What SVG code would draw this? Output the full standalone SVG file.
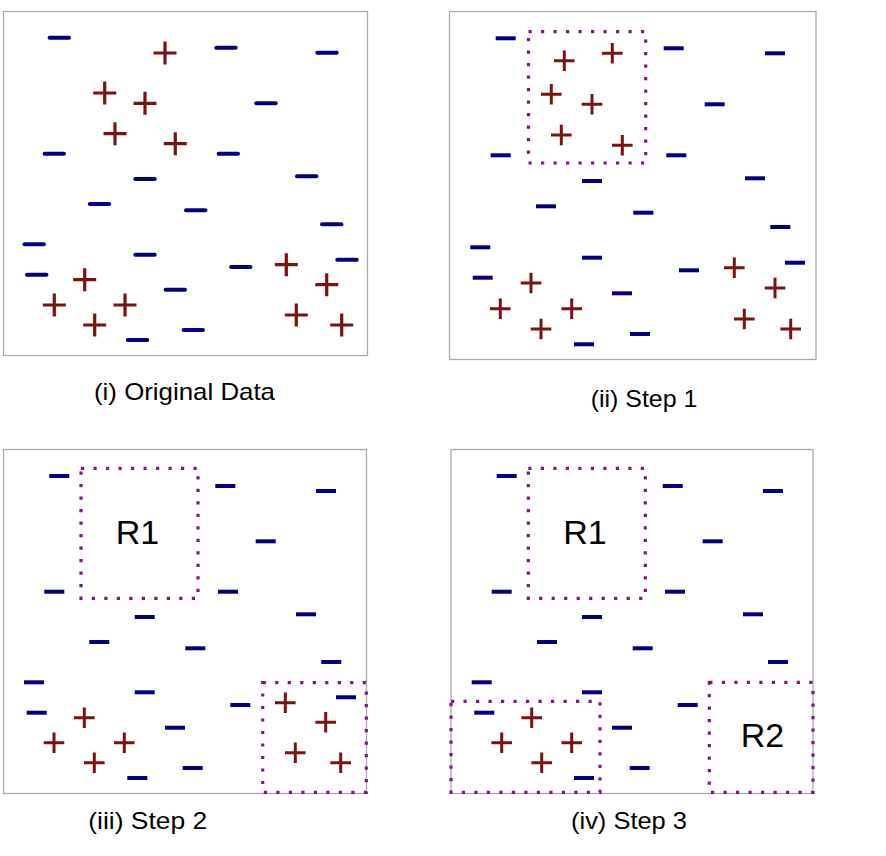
<svg xmlns="http://www.w3.org/2000/svg" xmlns:xlink="http://www.w3.org/1999/xlink" width="886" height="856" viewBox="0 0 886 856">
<style>
.frame{fill:none;stroke:#aaaaaa;stroke-width:1.3}
.box{fill:none;stroke:#7a1a7e;stroke-width:3.2;stroke-dasharray:3.2 9.3}
.cap{font-family:"Liberation Sans",Arial,sans-serif;font-size:24px;fill:#000}
.rl{font-family:"Liberation Sans",Arial,sans-serif;font-size:34px;fill:#000;text-anchor:middle}
</style>
<defs>
<line id="m1" x1="-9.7" y1="0" x2="9.7" y2="0" stroke="#000080" stroke-width="4" stroke-linecap="round"/>
<rect id="m" x="-10" y="-2" width="20" height="4" fill="#000080"/>
<path id="p1" d="M-11.5 0H11.5M0 -11.5V11.5" stroke="#7b1212" stroke-width="3.2" fill="none"/>
<path id="p" d="M-10.3 0H10.3M0 -10.3V10.3" stroke="#7b1212" stroke-width="3" fill="none"/>
</defs>
<rect width="886" height="856" fill="#fff"/>

<g id="panel1">
<rect class="frame" x="3.5" y="11.5" width="364" height="344"/>
<use xlink:href="#m1" x="59.3" y="37.7"/>
<use xlink:href="#m1" x="226" y="47.7"/>
<use xlink:href="#m1" x="327" y="52.7"/>
<use xlink:href="#m1" x="266" y="103.3"/>
<use xlink:href="#m1" x="54.3" y="153.7"/>
<use xlink:href="#m1" x="228.3" y="153.7"/>
<use xlink:href="#m1" x="306.7" y="176.3"/>
<use xlink:href="#m1" x="145" y="179"/>
<use xlink:href="#m1" x="99.5" y="204"/>
<use xlink:href="#m1" x="195.7" y="210.3"/>
<use xlink:href="#m1" x="331.7" y="224.3"/>
<use xlink:href="#m1" x="34.2" y="244.3"/>
<use xlink:href="#m1" x="145" y="254.7"/>
<use xlink:href="#m1" x="240.8" y="267"/>
<use xlink:href="#m1" x="347" y="259.7"/>
<use xlink:href="#m1" x="36.7" y="274.7"/>
<use xlink:href="#m1" x="175.3" y="289.7"/>
<use xlink:href="#m1" x="193.3" y="330"/>
<use xlink:href="#m1" x="137.5" y="340"/>
<use xlink:href="#p1" x="165" y="53"/>
<use xlink:href="#p1" x="104.7" y="93"/>
<use xlink:href="#p1" x="145" y="103.3"/>
<use xlink:href="#p1" x="115" y="133.7"/>
<use xlink:href="#p1" x="175.3" y="143.7"/>
<use xlink:href="#p1" x="84.7" y="279.7"/>
<use xlink:href="#p1" x="286.3" y="264.7"/>
<use xlink:href="#p1" x="326.7" y="284.7"/>
<use xlink:href="#p1" x="54.3" y="305"/>
<use xlink:href="#p1" x="125" y="305"/>
<use xlink:href="#p1" x="94.7" y="325"/>
<use xlink:href="#p1" x="296.3" y="315"/>
<use xlink:href="#p1" x="341.7" y="325"/>
<text class="cap" x="94" y="399.5" textLength="181" lengthAdjust="spacingAndGlyphs">(i) Original Data</text>
</g>

<g id="panel2">
<rect class="frame" x="449.5" y="11.5" width="366.5" height="348"/>
<g id="box-step1"><rect class="box" x="528.5" y="31.7" width="117.2" height="131.3"/></g>
<use xlink:href="#m" x="505.7" y="38.3"/>
<use xlink:href="#m" x="673.7" y="48.3"/>
<use xlink:href="#m" x="775" y="53.3"/>
<use xlink:href="#m" x="714.7" y="104.3"/>
<use xlink:href="#m" x="500.7" y="155.3"/>
<use xlink:href="#m" x="676.3" y="155.3"/>
<use xlink:href="#m" x="755" y="178.3"/>
<use xlink:href="#m" x="592" y="181"/>
<use xlink:href="#m" x="546" y="206.3"/>
<use xlink:href="#m" x="643.3" y="212.7"/>
<use xlink:href="#m" x="780.3" y="227"/>
<use xlink:href="#m" x="480.3" y="247.3"/>
<use xlink:href="#m" x="592" y="257.7"/>
<use xlink:href="#m" x="689" y="270.3"/>
<use xlink:href="#m" x="795" y="262.7"/>
<use xlink:href="#m" x="482.7" y="277.7"/>
<use xlink:href="#m" x="622" y="293.3"/>
<use xlink:href="#m" x="640" y="334"/>
<use xlink:href="#m" x="584" y="344.3"/>
<use xlink:href="#p" x="564.3" y="60.7"/>
<use xlink:href="#p" x="612.3" y="53.3"/>
<use xlink:href="#p" x="551.3" y="94.3"/>
<use xlink:href="#p" x="592" y="104.3"/>
<use xlink:href="#p" x="561.3" y="135"/>
<use xlink:href="#p" x="622.3" y="145.3"/>
<use xlink:href="#p" x="531" y="283"/>
<use xlink:href="#p" x="734.3" y="267.7"/>
<use xlink:href="#p" x="775" y="288"/>
<use xlink:href="#p" x="500.3" y="308.7"/>
<use xlink:href="#p" x="571.7" y="308.7"/>
<use xlink:href="#p" x="541" y="329"/>
<use xlink:href="#p" x="744.3" y="319"/>
<use xlink:href="#p" x="790.7" y="329"/>
<text class="cap" x="590.7" y="407" textLength="106.7" lengthAdjust="spacingAndGlyphs">(ii) Step 1</text>
</g>

<g id="panel3">
<rect class="frame" x="3.5" y="449.5" width="363" height="344"/>
<g id="R1-step2"><rect class="box" x="81" y="468.3" width="117" height="130"/><text class="rl" x="137.5" y="544">R1</text></g>
<g id="box-step2"><rect class="box" x="262.7" y="682.7" width="103.6" height="109.6"/></g>
<use xlink:href="#m" x="59.3" y="476"/>
<use xlink:href="#m" x="225.3" y="486"/>
<use xlink:href="#m" x="326" y="491"/>
<use xlink:href="#m" x="265.7" y="541.3"/>
<use xlink:href="#m" x="54.3" y="591.7"/>
<use xlink:href="#m" x="228" y="591.7"/>
<use xlink:href="#m" x="306" y="614.3"/>
<use xlink:href="#m" x="144.7" y="617"/>
<use xlink:href="#m" x="99.3" y="642"/>
<use xlink:href="#m" x="195.3" y="648.3"/>
<use xlink:href="#m" x="331.3" y="662"/>
<use xlink:href="#m" x="34" y="682.3"/>
<use xlink:href="#m" x="144.7" y="692.3"/>
<use xlink:href="#m" x="240.3" y="705"/>
<use xlink:href="#m" x="346" y="697.3"/>
<use xlink:href="#m" x="36.7" y="712.7"/>
<use xlink:href="#m" x="175" y="727.7"/>
<use xlink:href="#m" x="192.7" y="768"/>
<use xlink:href="#m" x="137.3" y="778"/>
<use xlink:href="#p" x="84.3" y="717.7"/>
<use xlink:href="#p" x="54" y="742.7"/>
<use xlink:href="#p" x="124.3" y="742.7"/>
<use xlink:href="#p" x="94.3" y="762.7"/>
<use xlink:href="#p" x="285.3" y="702.7"/>
<use xlink:href="#p" x="325.7" y="722.3"/>
<use xlink:href="#p" x="295.3" y="752.7"/>
<use xlink:href="#p" x="340.7" y="762.7"/>
<text class="cap" x="88.3" y="829" textLength="119" lengthAdjust="spacingAndGlyphs">(iii) Step 2</text>
</g>

<g id="panel4">
<rect class="frame" x="451" y="449.5" width="362" height="344"/>
<g id="R1-step3"><rect class="box" x="528.3" y="468.3" width="117" height="130"/><text class="rl" x="585" y="544">R1</text></g>
<g id="R2-step3"><rect class="box" x="709.3" y="682.3" width="103.7" height="110"/><text class="rl" x="762.5" y="746.7">R2</text></g>
<g id="box-step3"><rect class="box" x="451" y="701.3" width="149" height="91"/></g>
<use xlink:href="#m" x="506.7" y="476"/>
<use xlink:href="#m" x="672.7" y="486"/>
<use xlink:href="#m" x="773" y="491"/>
<use xlink:href="#m" x="712.7" y="541.3"/>
<use xlink:href="#m" x="501.7" y="591.7"/>
<use xlink:href="#m" x="675" y="591.7"/>
<use xlink:href="#m" x="753" y="614.3"/>
<use xlink:href="#m" x="592" y="617"/>
<use xlink:href="#m" x="547" y="642"/>
<use xlink:href="#m" x="642.7" y="648.3"/>
<use xlink:href="#m" x="778" y="662"/>
<use xlink:href="#m" x="481.7" y="682.3"/>
<use xlink:href="#m" x="592" y="692.3"/>
<use xlink:href="#m" x="687.7" y="705"/>
<use xlink:href="#m" x="484.3" y="712.7"/>
<use xlink:href="#m" x="622" y="727.7"/>
<use xlink:href="#m" x="639.7" y="768"/>
<use xlink:href="#m" x="584" y="778"/>
<use xlink:href="#p" x="531.7" y="717.7"/>
<use xlink:href="#p" x="501.7" y="742.7"/>
<use xlink:href="#p" x="571.7" y="742.7"/>
<use xlink:href="#p" x="541.7" y="762.7"/>
<text class="cap" x="571" y="829" textLength="116" lengthAdjust="spacingAndGlyphs">(iv) Step 3</text>
</g>
</svg>
